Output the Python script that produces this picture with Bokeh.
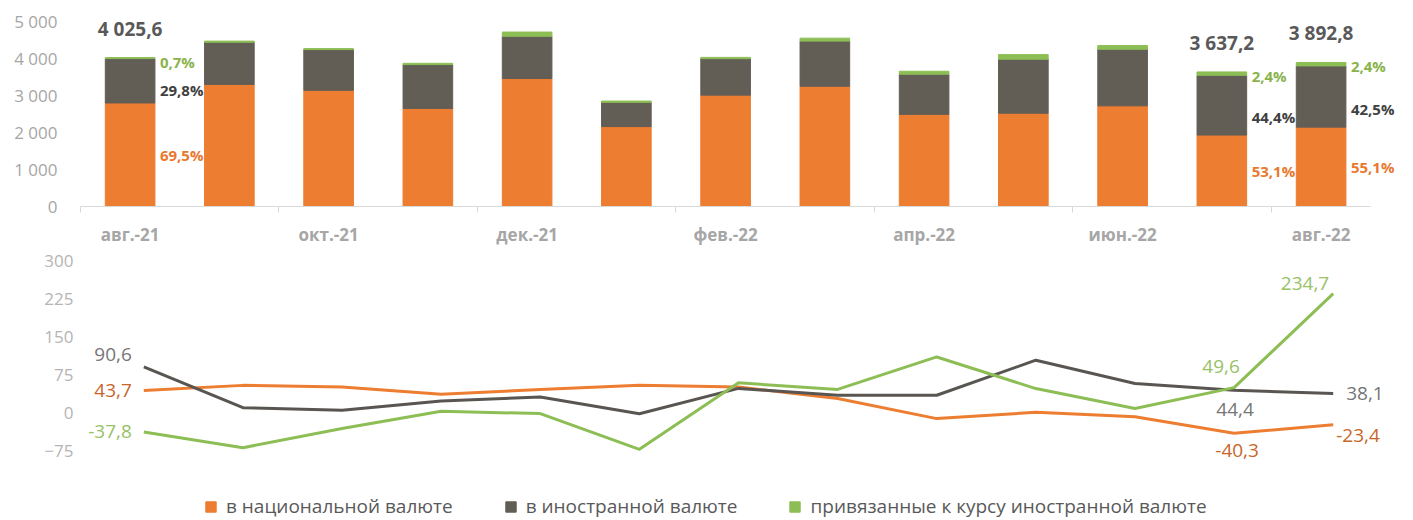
from bokeh.plotting import figure
from bokeh.models import ColumnDataSource, FixedTicker, LabelSet, Legend, LegendItem, Range1d
from bokeh.layouts import column
from bokeh.core.properties import value
from bokeh.embed import file_html
from bokeh.resources import INLINE

# ---------------- data ----------------
months = ["авг.-21", "сен.-21", "окт.-21", "ноя.-21", "дек.-21", "янв.-22", "фев.-22",
          "мар.-22", "апр.-22", "май-22", "июн.-22", "июл.-22", "авг.-22"]
nat_vol = [2797.8, 3300, 3140, 2650, 3460, 2160, 3010, 3250, 2490, 2520, 2720, 1931.4, 2144.9]
for_vol = [1199.6, 1140, 1100, 1185, 1140, 655, 985, 1220, 1085, 1460, 1530, 1614.9, 1654.4]
peg_vol = [28.2, 30, 27, 35, 115, 35, 35, 80, 80, 125, 100, 90.9, 93.5]

total_idx = [0, 11, 12]
total_txt = ["4 025,6", "3 637,2", "3 892,8"]
pct_nat_txt = ["69,5%", "53,1%", "55,1%"]
pct_for_txt = ["29,8%", "44,4%", "42,5%"]
pct_peg_txt = ["0,7%", "2,4%", "2,4%"]

nat_chg = [43.7, 54, 51, 36.5, 46, 54, 51, 28, -11.5, 1, -8, -40.3, -23.4]
for_chg = [90.6, 10, 5, 23, 31, -2, 48, 34.5, 34.5, 103.6, 57.6, 44.4, 38.1]
peg_chg = [-37.8, -68.7, -31, 3, -1.6, -72, 59, 46, 110, 47.7, 8.3, 49.6, 234.7]

top_ticks = [0, 1000, 2000, 3000, 4000, 5000]
top_tick_txt = ["0", "1 000", "2 000", "3 000", "4 000", "5 000"]
bot_ticks = [-75, 0, 75, 150, 225, 300]

series_names = ["в национальной валюте", "в иностранной валюте",
                "привязанные к курсу иностранной валюте"]

# ---------------- styles ----------------
C_NAT = "#ED7D31"
C_FOR = "#625D55"
C_PEG = "#8DBE55"
C_FOR_LINE = "#595652"
FONT = "Open Sans"
AX_COL = "#a6a6a6"

xs = list(range(len(months)))

# ---------------- top chart ----------------
p1 = figure(width=1413, height=248, x_range=Range1d(-0.5, 12.8), y_range=Range1d(0, 5000),
            output_backend="svg", toolbar_location=None,
            min_border_left=80, min_border_right=13, min_border_top=21, min_border_bottom=41)
p1.outline_line_color = None
p1.xgrid.visible = False
p1.ygrid.visible = False

src1 = ColumnDataSource(dict(x=xs, nat=nat_vol, fr=for_vol, peg=peg_vol))
p1.vbar_stack(["nat", "fr", "peg"], x="x", width=0.5, color=[C_NAT, C_FOR, C_PEG], source=src1)

ya = p1.yaxis[0]
ya.ticker = FixedTicker(ticks=top_ticks)
ya.major_label_overrides = {t: s for t, s in zip(top_ticks, top_tick_txt)}
ya.axis_line_color = None
ya.major_tick_line_color = None
ya.minor_tick_line_color = None
ya.major_tick_out = 0
ya.major_label_standoff = 23
ya.major_label_text_font = FONT
ya.major_label_text_font_size = "17px"
ya.major_label_text_color = AX_COL

xa = p1.xaxis[0]
xa.ticker = FixedTicker(ticks=xs[::2], minor_ticks=[i - 0.5 for i in xs[::2]])
xa.major_label_overrides = {i: months[i] for i in xs[::2]}
xa.bounds = (-0.5, 12.5)
xa.axis_line_color = "#d9d9d9"
xa.major_tick_line_color = None
xa.major_tick_out = 0
xa.major_tick_in = 0
xa.minor_tick_out = 6
xa.minor_tick_in = 0
xa.minor_tick_line_color = "#d9d9d9"
xa.major_label_standoff = 10
xa.major_label_text_font = FONT
xa.major_label_text_font_style = "bold"
xa.major_label_text_font_size = "17px"
xa.major_label_text_color = AX_COL

totals = [nat_vol[i] + for_vol[i] + peg_vol[i] for i in total_idx]
tot_src = ColumnDataSource(dict(x=total_idx, y=totals, t=total_txt))
p1.add_layout(LabelSet(x="x", y="y", text="t", source=tot_src, text_align="center",
                       text_baseline="middle", y_offset=29, text_font=value(FONT),
                       text_font_style="bold", text_font_size="19px", text_color="#595959"))

xr = [i + 0.25 for i in total_idx]
nat_src = ColumnDataSource(dict(x=xr, y=[nat_vol[i] / 2 for i in total_idx], t=pct_nat_txt))
for_src = ColumnDataSource(dict(x=xr, y=[nat_vol[i] + for_vol[i] * 0.3 for i in total_idx], t=pct_for_txt))
peg_src = ColumnDataSource(dict(x=xr, y=totals, t=pct_peg_txt))
for s, col, dy in [(nat_src, "#E8792F", 0), (for_src, "#404040", 0), (peg_src, "#8AB34C", -4)]:
    p1.add_layout(LabelSet(x="x", y="y", text="t", source=s, text_align="left",
                           text_baseline="middle", x_offset=5, y_offset=dy,
                           text_font=value(FONT), text_font_style="bold",
                           text_font_size="15px", text_color=col))

# ---------------- bottom chart ----------------
p2 = figure(width=1413, height=272, x_range=Range1d(-0.639, 12.679), y_range=Range1d(-212.2, 300),
            output_backend="svg", toolbar_location=None, x_axis_location=None,
            min_border_left=66, min_border_right=13, min_border_top=12, min_border_bottom=0)
p2.outline_line_color = None
p2.xgrid.visible = False
p2.ygrid.visible = False

ya2 = p2.yaxis[0]
ya2.ticker = FixedTicker(ticks=bot_ticks)
ya2.axis_line_color = None
ya2.major_tick_line_color = None
ya2.minor_tick_line_color = None
ya2.major_tick_out = 0
ya2.major_label_standoff = 7
ya2.major_label_text_font = FONT
ya2.major_label_text_font_size = "17px"
ya2.major_label_text_color = "#b4b4b4"

p2.line(xs, nat_chg, line_width=3, color=C_NAT, line_join="round")
p2.line(xs, for_chg, line_width=3, color=C_FOR_LINE, line_join="round")
p2.line(xs, peg_chg, line_width=3, color=C_PEG, line_join="round")

def fmt(v):
    return f"{v:.1f}".replace(".", ",")

LBL_NAT = "#C8662A"
LBL_FOR = "#767676"
LBL_PEG = "#97C267"

lab_specs = [
    (nat_chg, 0, LBL_NAT, "right", -12, 0),
    (for_chg, 0, LBL_FOR, "right", -12, 12),
    (peg_chg, 0, LBL_PEG, "right", -12, 0),
    (nat_chg, 11, LBL_NAT, "center", 3, -17),
    (for_chg, 11, LBL_FOR, "center", 1, -19),
    (peg_chg, 11, LBL_PEG, "center", -13, 21),
    (nat_chg, 12, LBL_NAT, "left", 3, -11),
    (for_chg, 12, LBL_FOR, "left", 13, 0),
    (peg_chg, 12, LBL_PEG, "right", -4, 10),
]
for ser, i, col, al, dx, dy in lab_specs:
    s = ColumnDataSource(dict(x=[i], y=[ser[i]], t=[fmt(ser[i])]))
    p2.add_layout(LabelSet(x="x", y="y", text="t", source=s, text_align=al,
                           text_baseline="middle", x_offset=dx, y_offset=dy,
                           text_font=value(FONT), text_font_size="19px", text_color=col))

# legend swatches (no visible data, only used for the legend)
nan = float("nan")
r_nat = p2.quad(left=[nan], right=[nan], top=[nan], bottom=[nan], color=C_NAT)
r_for = p2.quad(left=[nan], right=[nan], top=[nan], bottom=[nan], color=C_FOR)
r_peg = p2.quad(left=[nan], right=[nan], top=[nan], bottom=[nan], color=C_PEG)
legend = Legend(items=[LegendItem(label=series_names[0], renderers=[r_nat]),
                       LegendItem(label=series_names[1], renderers=[r_for]),
                       LegendItem(label=series_names[2], renderers=[r_peg])],
                orientation="horizontal", location=(124, 1),
                label_text_font=FONT, label_text_font_size="19px", label_text_color="#595959",
                glyph_width=13, glyph_height=13, label_standoff=9, spacing=51,
                padding=0, margin=0, border_line_color=None, background_fill_alpha=0)
p2.add_layout(legend)

layout = column(p1, p2)
open("out.html", "w").write(file_html(layout, INLINE))
